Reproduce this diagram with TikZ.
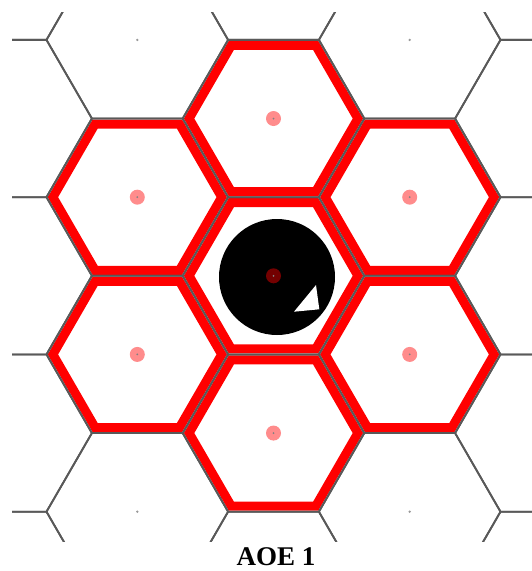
\documentclass[tikz,border=0pt]{standalone}
\usepackage{fontspec}
\setmainfont{Liberation Serif}
\usetikzlibrary{arrows.meta,positioning,calc}

\begin{document}
\begin{tikzpicture}[x=1pt, y=-1pt,
    gridline/.style={draw=black!65, line width=1.8pt, line join=miter},
    aoeband/.style={draw=red, line width=9pt, line join=miter},
    hitdot/.style={fill=red, opacity=0.45}]
      \useasboundingbox (0,0) rectangle (532,571);
      \foreach \cx/\cy in {273.5/275.8, 273.5/118.53, 273.5/433.07, 137.3/197.17, 137.3/354.43, 409.7/197.17, 409.7/354.43}
        \draw[aoeband] (\cx,\cy) ++(0:84.4) -- ++(120:84.4) -- ++(180:84.4) -- ++(240:84.4) -- ++(300:84.4) -- ++(0:84.4) -- cycle;
      \begin{scope}
        \clip (12,12) rectangle (532,541);
        \foreach \i in {-2,...,2}
          \foreach \j in {-3,...,3} {
            \pgfmathsetmacro\cx{273.5+136.2*\i}
            \pgfmathsetmacro\cy{275.8+157.27*\j+78.63*mod(abs(\i),2)}
            \draw[gridline] (\cx,\cy) ++(0:90.8) -- ++(120:90.8) -- ++(180:90.8) -- ++(240:90.8) -- ++(300:90.8) -- ++(0:90.8) -- cycle;
          }
      \end{scope}
      \foreach \cx/\cy in {137.3/39.9, 409.7/39.9, 137.3/511.7, 409.7/511.7}
        \fill[black!40] (\cx,\cy) circle (1.3);
      \fill[black] (277,277) circle (58);
      \fill[white] (316,285) -- (319.3,309.3) -- (294,311.7) -- cycle;
      \foreach \cx/\cy in {273.5/275.8, 273.5/118.53, 273.5/433.07, 137.3/197.17, 137.3/354.43, 409.7/197.17, 409.7/354.43} {
        \fill[hitdot] (\cx,\cy) circle (7.5);
        \fill[black!50] (\cx,\cy) circle (1);
      }
      \node[font=\fontsize{27}{30}\selectfont\bfseries] (caption) at (276,557) {AOE 1};
    \end{tikzpicture}
\end{document}
